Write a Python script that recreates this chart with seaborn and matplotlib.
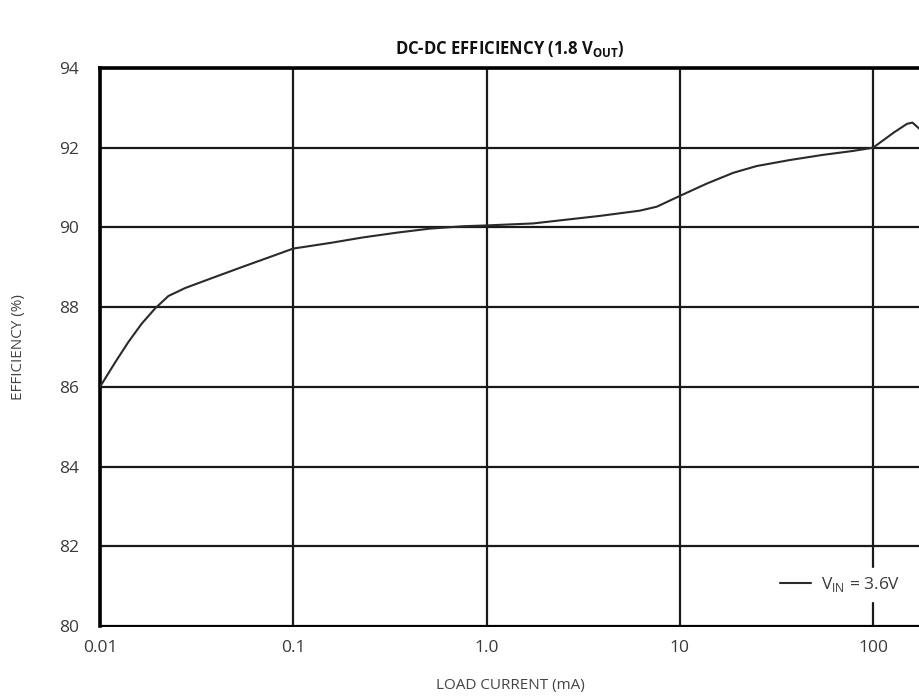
import numpy as np
import matplotlib
matplotlib.use("Agg")
import matplotlib.pyplot as plt
import seaborn as sns

# load current (mA) and efficiency (%)
load_ma = [0.01, 0.012, 0.014, 0.0164, 0.0193, 0.0226, 0.0276, 0.038,
           0.056, 0.08, 0.1, 0.155, 0.23, 0.345, 0.51, 0.76, 1.0, 1.74,
           3.87, 6.2, 7.6, 10, 13.8, 18.9, 25, 37, 55, 79, 100, 128, 150,
           160, 175]
efficiency = [86.0, 86.62, 87.12, 87.58, 87.97, 88.28, 88.48, 88.73,
              89.03, 89.3, 89.47, 89.61, 89.75, 89.87, 89.97, 90.03, 90.05,
              90.1, 90.29, 90.42, 90.52, 90.79, 91.1, 91.37, 91.54, 91.69,
              91.82, 91.92, 92.0, 92.38, 92.6, 92.63, 92.46]

x_ticks = [0.01, 0.1, 1.0, 10, 100]
x_ticklabels = ["0.01", "0.1", "1.0", "10", "100"]
y_ticks = [80, 82, 84, 86, 88, 90, 92, 94]

sns.set_style("white")
plt.rcParams['font.family'] = ['Open Sans', 'DejaVu Sans']

fig = plt.figure(figsize=(9.2, 7), dpi=100)
ax = fig.add_axes([100 / 920, 1 - 626 / 700, 1 - 100 / 920, (626 - 68) / 700])

sns.lineplot(x=load_ma, y=efficiency, ax=ax, color="#2a2a2a", linewidth=1.5,
             label=r"V$_{\mathregular{IN}}$ = 3.6V", zorder=3)

ax.set_xscale("log")
ax.set_xlim(0.01, 175)
ax.set_ylim(80, 94)
ax.set_xticks(x_ticks)
ax.set_xticklabels(x_ticklabels)
ax.set_yticks(y_ticks)
ax.xaxis.set_minor_locator(matplotlib.ticker.NullLocator())

ax.grid(True, which="major", color="#1a1a1a", linewidth=1.6)
ax.set_axisbelow(True)
ax.tick_params(axis="both", length=0, labelsize=12.5, labelcolor="#3a3a3a")
ax.tick_params(axis="x", pad=10)
ax.tick_params(axis="y", pad=15)

ax.spines["right"].set_visible(False)
ax.spines["left"].set_linewidth(2.6)
ax.spines["top"].set_linewidth(2.6)
ax.spines["bottom"].set_linewidth(1.4)
for s in ["left", "top", "bottom"]:
    ax.spines[s].set_color("#000000")

ax.set_title(r"DC-DC EFFICIENCY (1.8 V$_{\mathregular{OUT}}$)", fontsize=12,
             fontweight="bold", color="#111111", pad=10)
ax.set_xlabel("LOAD CURRENT (mA)", fontsize=11, color="#444444", labelpad=16)
ax.set_ylabel("EFFICIENCY (%)", fontsize=11, color="#444444", labelpad=24)

leg = ax.legend(loc="lower right", bbox_to_anchor=(0.985, 0.045), frameon=True,
                fontsize=12.5, handlelength=1.8, handletextpad=0.6,
                borderaxespad=0)
leg.get_frame().set_edgecolor("white")
leg.get_frame().set_facecolor("white")
leg.get_frame().set_alpha(1)
for t in leg.get_texts():
    t.set_color("#3a3a3a")

fig.savefig("out.png", dpi=100)
